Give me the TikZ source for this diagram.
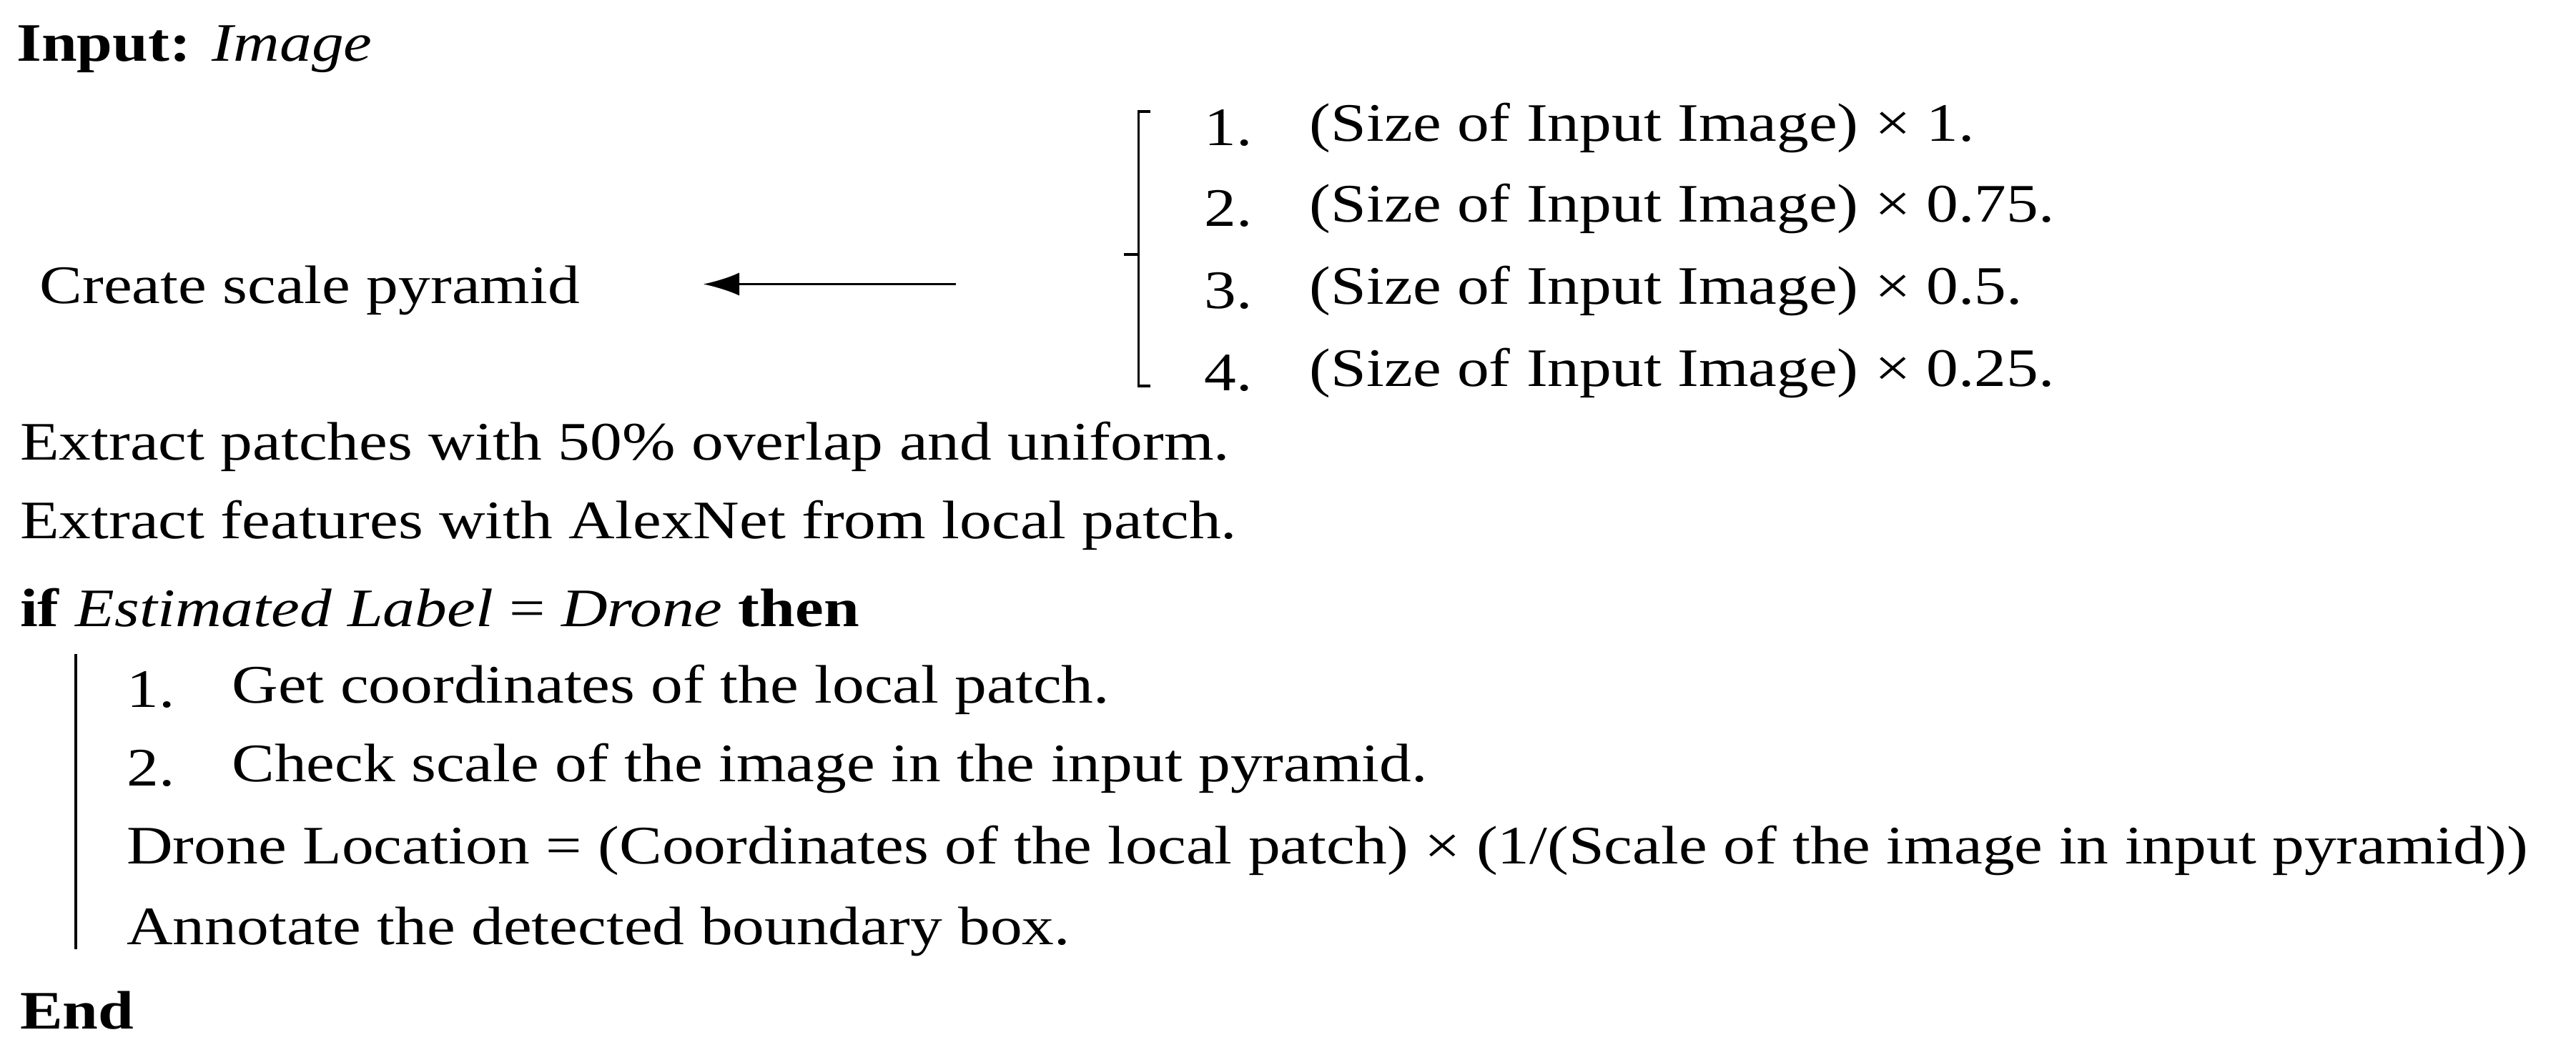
\documentclass[tikz,border=0pt]{standalone}
\usepackage{fontspec}
\setmainfont{Liberation Serif}[FakeStretch=1.18]
\usetikzlibrary{arrows.meta}
\begin{document}
\begin{tikzpicture}[x=1pt,y=-1pt,
  txt/.style={anchor=west,inner sep=0pt,font=\fontsize{33}{38}\selectfont},
  line/.style={line width=1.6pt}]
\useasboundingbox (0,0) rectangle (1568,642);
\node[txt] (in) at (10,30) {\textbf{Input:} \textit{Image}};
\node[txt] (n1) at (733,78) {1.};
\node[txt] (n2) at (733,127) {2.};
\node[txt] (n3) at (733,177) {3.};
\node[txt] (n4) at (733,227) {4.};
\node[txt] (s1) at (797,78) {(Size of Input Image) × 1.};
\node[txt] (s2) at (797,127) {(Size of Input Image) × 0.75.};
\node[txt] (s3) at (797,177) {(Size of Input Image) × 0.5.};
\node[txt] (s4) at (797,227) {(Size of Input Image) × 0.25.};
\node[txt] (csp) at (24,177) {Create scale pyramid};
\coordinate (as) at (582,173);
\coordinate (ae) at (428,173);
\draw[line,-{Latex[length=22pt,width=14pt]}] (as) -- (ae);
\draw[line] (700,68) -- (693,68) -- (693,235) -- (700,235);
\draw[line] (693,155) -- (684,155);
\node[txt] (e1) at (12,272) {Extract patches with 50\% overlap and uniform.};
\node[txt] (e2) at (12,320) {Extract features with AlexNet from local patch.};
\node[txt] (if) at (12,370) {\textbf{if} \textit{Estimated Label} = \textit{Drone} \textbf{then}};
\draw[line] (46,398) -- (46,578);
\node[txt] (g1) at (77,420) {1.};
\node[txt] (g1t) at (141,420) {Get coordinates of the local patch.};
\node[txt] (g2) at (77,468) {2.};
\node[txt] (g2t) at (141,468) {Check scale of the image in the input pyramid.};
\node[txt] (dl) at (77,518) {Drone Location = (Coordinates of the local patch) × (1/(Scale of the image in input pyramid))};
\node[txt] (an) at (77,567) {Annotate the detected boundary box.};
\node[txt] (end) at (12,615) {\textbf{End}};
\end{tikzpicture}
\end{document}
